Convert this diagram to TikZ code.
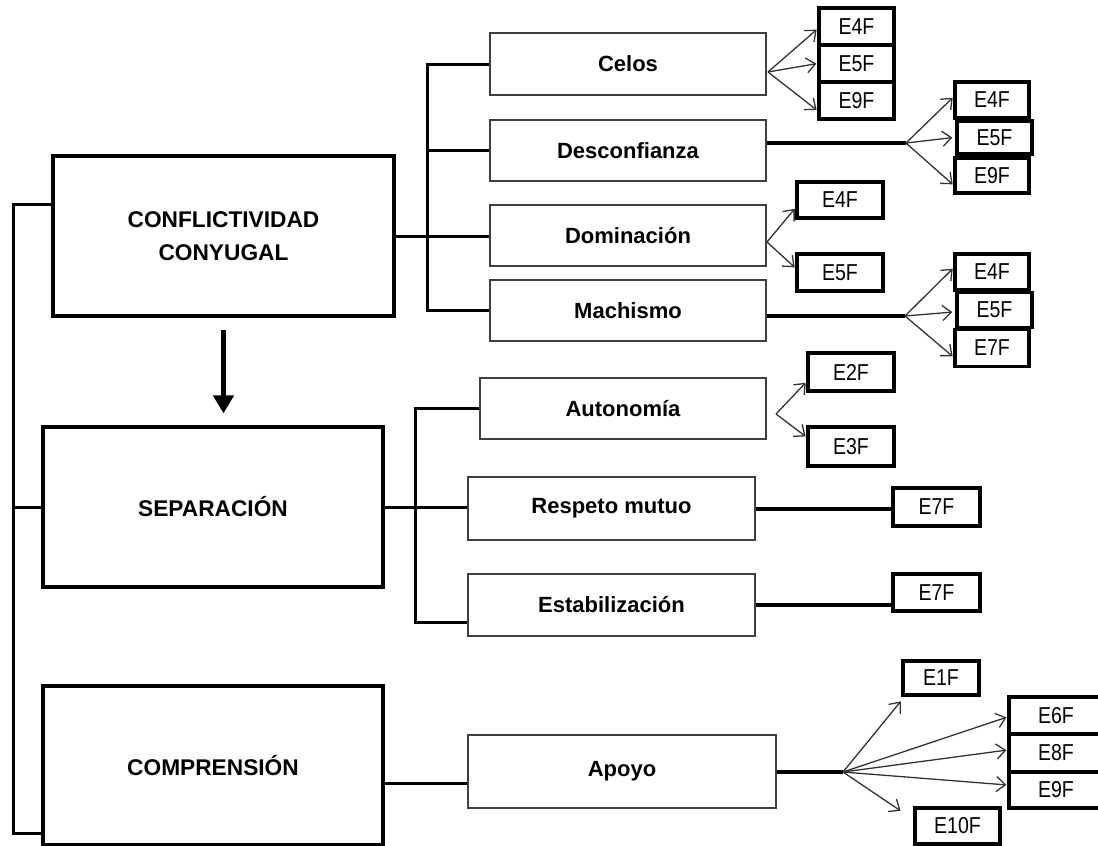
\documentclass[tikz,border=0pt]{standalone}
\usepackage{fontspec}
\setmainfont{Liberation Sans}
\newfontfamily\narrowfont{Liberation Sans}[FakeStretch=0.85]
\usetikzlibrary{arrows.meta,calc}
\begin{document}
\begin{tikzpicture}[x=1pt,y=-1pt,
  mainbox/.style={draw=black, line width=3.2pt, inner sep=0pt, align=center,
    font=\fontsize{22.7}{33}\selectfont\bfseries},
  subbox/.style={draw=black!75, line width=1.5pt, inner sep=0pt,
    font=\fontsize{22}{26}\selectfont\bfseries},
  ebox/.style={draw=black, line width=3.2pt, inner sep=0pt,
    font=\narrowfont\fontsize{23}{26}\selectfont},
  conn/.style={draw=black, line width=3pt},
  thickconn/.style={draw=black, line width=4pt},
  fan/.style={draw=black!80, line width=1.3pt, -{Straight Barb[length=9pt,width=15pt]}, shorten >=1pt},
  bigarrow/.style={draw=black, line width=5pt, -{Triangle[length=18pt,width=20pt]}}
]
\useasboundingbox (0,0) rectangle (1098,846);

% main boxes
\node[mainbox, minimum width=341pt, minimum height=160pt] (cc) at (223.5,236) {CONFLICTIVIDAD\\CONYUGAL};
\node[mainbox, minimum width=340pt, minimum height=160pt] (sep) at (213,507) {SEPARACIÓN};
\node[mainbox, minimum width=340pt, minimum height=159pt] (comp) at (213,765.5) {COMPRENSIÓN};

% sub boxes
\node[subbox, minimum width=276pt, minimum height=62pt] (celos) at (628,64) {Celos};
\node[subbox, minimum width=276pt, minimum height=61pt] (desc) at (628,150.5) {Desconfianza};
\node[subbox, minimum width=276pt, minimum height=61pt] (dom) at (628,235.5) {Dominación};
\node[subbox, minimum width=276pt, minimum height=61pt] (mach) at (628,310.5) {Machismo};
\node[subbox, minimum width=286pt, minimum height=61pt] (auto) at (623,408.5) {Autonomía};
\node[subbox, minimum width=287pt, minimum height=63pt] (resp) at (611.5,508.5) {Respeto mutuo};
\node[subbox, minimum width=287pt, minimum height=62pt] (estab) at (611.5,605) {Estabilización};
\node[subbox, minimum width=308pt, minimum height=73pt] (apoyo) at (622,771.5) {Apoyo};

% E boxes
\node[ebox, minimum width=75pt, minimum height=37pt] (c4) at (856.5,26.5) {E4F};
\node[ebox, minimum width=75pt, minimum height=37pt] (c5) at (856.5,63.5) {E5F};
\node[ebox, minimum width=75pt, minimum height=37pt] (c9) at (856.5,100.5) {E9F};

\node[ebox, minimum width=74pt, minimum height=36pt] (d4) at (992,100) {E4F};
\node[ebox, minimum width=75pt, minimum height=33pt] (d5) at (994.5,137.5) {E5F};
\node[ebox, minimum width=74pt, minimum height=35pt] (d9) at (992,175.5) {E9F};

\node[ebox, minimum width=86pt, minimum height=36pt] (o4) at (840,200) {E4F};
\node[ebox, minimum width=86pt, minimum height=37pt] (o5) at (840,272.5) {E5F};

\node[ebox, minimum width=74pt, minimum height=36pt] (h4) at (992,272) {E4F};
\node[ebox, minimum width=75pt, minimum height=35pt] (h5) at (994.5,310) {E5F};
\node[ebox, minimum width=74pt, minimum height=37pt] (h7) at (992,348) {E7F};

\node[ebox, minimum width=86pt, minimum height=38pt] (a2) at (851,372) {E2F};
\node[ebox, minimum width=86pt, minimum height=39pt] (a3) at (851,446.5) {E3F};

\node[ebox, minimum width=87pt, minimum height=38pt] (r7) at (936.5,507) {E7F};
\node[ebox, minimum width=87pt, minimum height=37pt] (s7) at (936.5,592.5) {E7F};

\node[ebox, minimum width=76pt, minimum height=34pt] (p1) at (941,678) {E1F};
\node[ebox, minimum width=94pt, minimum height=37pt] (p6) at (1056,715.5) {E6F};
\node[ebox, minimum width=94pt, minimum height=38pt] (p8) at (1056,753) {E8F};
\node[ebox, minimum width=94pt, minimum height=36pt] (p9) at (1056,790) {E9F};
\node[ebox, minimum width=85pt, minimum height=36pt] (p10) at (957.5,826) {E10F};

% left spine
\coordinate (sp1) at (13,204);
\coordinate (sp2) at (13,833);
\draw[conn] ([yshift=32pt]cc.west) -- (sp1) -- (sp2) -- (sp2 -| comp.west);
\draw[conn] (sp1 |- sep.west) -- (sep.west);

% big arrow
\draw[bigarrow, shorten <=12pt, shorten >=12pt] (cc.south) -- (cc.south |- sep.north);

% bracket 1
\coordinate (b1) at (427,0);
\draw[conn] (celos.west) -- (celos.west -| b1) -- (mach.west -| b1) -- (mach.west);
\draw[conn] (desc.west -| b1) -- (desc.west);
\draw[conn] (cc.east) -- (cc.east -| dom.west);

% bracket 2
\coordinate (b2e) at (415,622);
\draw[conn] (auto.west) -| (b2e) -- (b2e -| estab.west);
\draw[conn] (sep.east) -- (sep.east -| resp.west);

% comprension
\coordinate (cy) at (0,783);
\draw[conn] (comp.east |- cy) -- (apoyo.west |- cy);

% Celos fan
\coordinate (f1) at (768,72);
\draw[fan] (f1) -- ([yshift=-2.5pt]c4.west);
\draw[fan] (f1) -- (c5.west);
\draw[fan] (f1) -- ([yshift=-10pt]c9.west);

% Desconfianza fan
\coordinate (f2) at (906,143);
\draw[thickconn] (desc.east |- f2) -- (f2);
\draw[fan] (f2) -- ([yshift=3pt]d4.west);
\draw[fan] (f2) -- ([xshift=-2pt]d5.west);
\draw[fan] (f2) -- ([yshift=-9.5pt]d9.west);

% Dominacion fan
\coordinate (f3) at (767,242);
\draw[fan] (f3) -- ([yshift=-8pt]o4.west);
\draw[fan] (f3) -- ([yshift=4.5pt]o5.west);

% Machismo fan
\coordinate (f4) at (905,316);
\draw[thickconn] (mach.east |- f4) -- (f4);
\draw[fan] (f4) -- ([yshift=4pt]h4.west);
\draw[fan] (f4) -- ([xshift=-2pt,yshift=-2pt]h5.west);
\draw[fan] (f4) -- ([yshift=-9pt]h7.west);

% Autonomia fan
\coordinate (f5) at (776,414);
\draw[fan] (f5) -- ([yshift=-10pt]a2.west);
\draw[fan] (f5) -- ([yshift=9.5pt]a3.west);

% single links
\draw[thickconn] (resp.east) -- (resp.east -| r7.west);
\draw[thickconn] (estab.east) -- (estab.east -| s7.west);

% Apoyo fan
\coordinate (f6) at (843,772);
\draw[thickconn] (apoyo.east |- f6) -- (f6);
\draw[fan] (f6) -- ([yshift=-4pt]p1.south west);
\draw[fan] (f6) -- ([yshift=-1.5pt]p6.west);
\draw[fan] (f6) -- ([yshift=3pt]p8.west);
\draw[fan] (f6) -- ([yshift=5pt]p9.west);
\draw[fan] (f6) -- ([xshift=-12pt,yshift=-5pt]p10.north west);
\end{tikzpicture}
\end{document}
